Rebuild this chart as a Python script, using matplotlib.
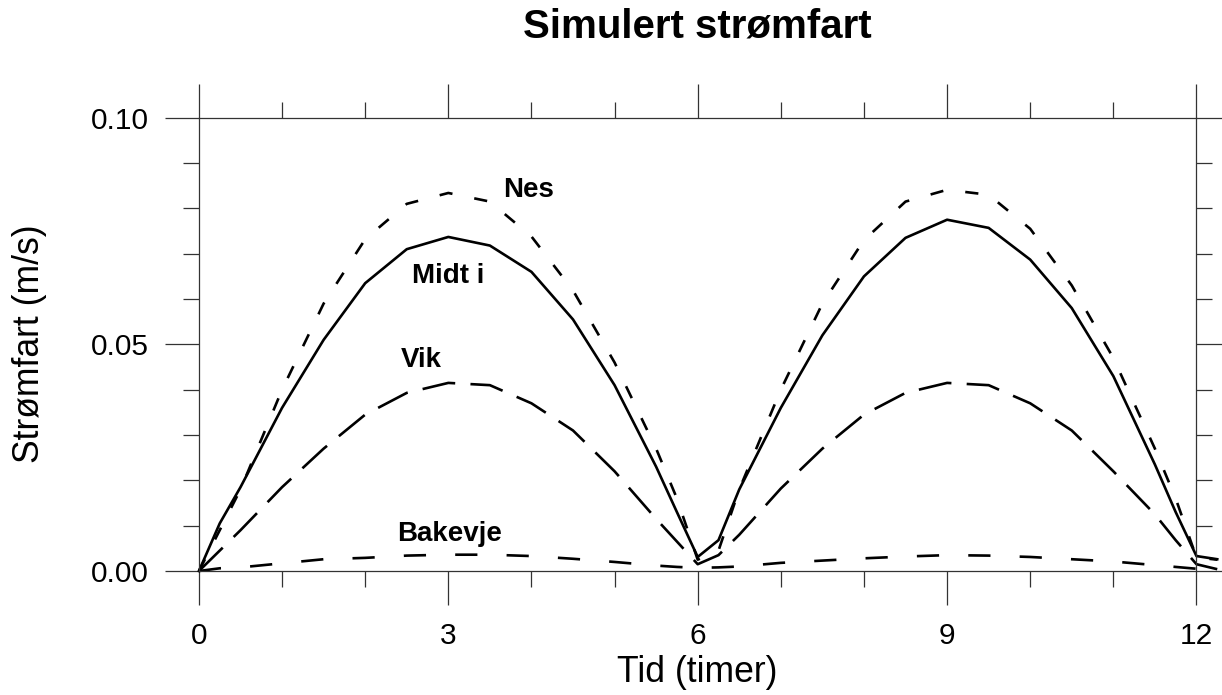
import matplotlib.pyplot as plt
from matplotlib.ticker import MultipleLocator, FormatStrFormatter

plt.rcParams['font.family'] = ['Liberation Sans', 'DejaVu Sans']
plt.rcParams['lines.scale_dashes'] = False

# simulated current speed (m/s) against time (hours)
tid = [0, 0.25, 0.5, 1.0, 1.5, 2.0, 2.5, 3.0, 3.5, 4.0, 4.5, 5.0, 5.5, 5.75,
       6.0, 6.25, 6.5, 7.0, 7.5, 8.0, 8.5, 9.0, 9.5, 10.0, 10.5, 11.0, 11.5,
       11.75, 12.0, 12.25]

midt_i = [0, 0.0105, 0.0185, 0.036, 0.051, 0.0635, 0.0710, 0.0737, 0.0718,
          0.0660, 0.0555, 0.041, 0.023, 0.013, 0.0031, 0.0068, 0.018, 0.036,
          0.052, 0.065, 0.0735, 0.0775, 0.0757, 0.0687, 0.058, 0.043, 0.0235,
          0.013, 0.0033, 0.0026]

nes = [0, 0.009, 0.018, 0.040, 0.059, 0.0732, 0.0810, 0.0834, 0.0815, 0.0738,
       0.0619, 0.046, 0.027, 0.016, 0.0025, 0.0045, 0.018, 0.040, 0.059, 0.073,
       0.0815, 0.0841, 0.083, 0.0755, 0.063, 0.047, 0.027, 0.016, 0.003, 0.0025]

vik = [0, 0.0045, 0.009, 0.0185, 0.027, 0.0345, 0.0393, 0.0415, 0.041, 0.037,
       0.031, 0.022, 0.0115, 0.0065, 0.0015, 0.0035, 0.008, 0.0182, 0.027,
       0.0345, 0.0393, 0.0415, 0.041, 0.037, 0.031, 0.022, 0.0125, 0.0068,
       0.0015, 0.0004]

bakevje = [0, 0.0006, 0.0008, 0.0017, 0.0026, 0.0029, 0.0034, 0.0036, 0.0036,
           0.0033, 0.0027, 0.002, 0.0012, 0.0009, 0.0007, 0.0008, 0.001, 0.0018,
           0.0023, 0.0028, 0.0032, 0.0035, 0.0034, 0.0031, 0.0026, 0.0021,
           0.0013, 0.0009, 0.0005, 0.0004]

# label text and where it sits (time, speed)
etiketter = ['Nes', 'Midt i', 'Vik', 'Bakevje']
etikett_x = [3.96, 3.0, 2.68, 3.02]
etikett_y = [0.0841, 0.065, 0.0465, 0.0082]

fig = plt.figure(figsize=(12.22, 6.95), dpi=100)
ax = fig.add_axes([0.1628, 0.1784, 0.8163, 0.6522])

ax.plot(tid, midt_i, color='black', lw=1.9, clip_on=False)
ax.plot(tid, nes, color='black', lw=1.9, dashes=(9.5, 16), clip_on=False)
ax.plot(tid, vik, color='black', lw=1.9, dashes=(24, 11), clip_on=False)
ax.plot(tid, bakevje, color='black', lw=1.9, dashes=(16, 21), clip_on=False)

for txt, x, y in zip(etiketter, etikett_x, etikett_y):
    ax.text(x, y, txt, fontsize=20, fontweight='bold', ha='center', va='center')

ax.set_xlim(0, 12)
ax.set_ylim(0, 0.1)
ax.xaxis.set_major_locator(MultipleLocator(3))
ax.xaxis.set_minor_locator(MultipleLocator(1))
ax.yaxis.set_major_locator(MultipleLocator(0.05))
ax.yaxis.set_minor_locator(MultipleLocator(0.01))
ax.yaxis.set_major_formatter(FormatStrFormatter('%.2f'))

for s in ax.spines.values():
    s.set_linewidth(0.9)
    s.set_color('0.2')
ax.tick_params(which='both', direction='out', top=True, right=True,
               color='0.2', width=0.9, labelsize=21.5)
ax.tick_params(which='major', length=24.5)
ax.tick_params(which='minor', length=11.5)
ax.tick_params(axis='x', which='major', pad=12)
ax.tick_params(axis='y', which='major', pad=11.5)

fig.text(697 / 1222, 1 - 38 / 695, 'Simulert strømfart', fontsize=29,
         fontweight='bold', ha='center', va='baseline')
fig.text(30 / 1222, 1 - 344 / 695, 'Strømfart (m/s)', fontsize=25.6,
         rotation=90, ha='center', va='center')
fig.text(697 / 1222, 1 - 673 / 695, 'Tid (timer)', fontsize=25.6,
         ha='center', va='center')

fig.savefig('out.png', dpi=100)
